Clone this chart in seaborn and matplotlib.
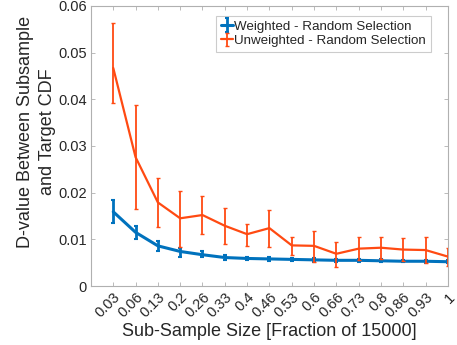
import numpy as np
import pandas as pd
import seaborn as sns
import matplotlib.pyplot as plt
from matplotlib.legend_handler import HandlerTuple

tick_labels = ["0.03", "0.06", "0.13", "0.2", "0.26", "0.33", "0.4", "0.46",
               "0.53", "0.6", "0.66", "0.73", "0.8", "0.86", "0.93", "1"]

weighted = [0.0159, 0.0115, 0.0086, 0.0074, 0.0067, 0.0061, 0.0059, 0.0058,
            0.0057, 0.0056, 0.0055, 0.0055, 0.0054, 0.0053, 0.0053, 0.0052]
weighted_lo = [0.0134, 0.0101, 0.0075, 0.0063, 0.0062, 0.0056, 0.0055, 0.0053,
               0.0054, 0.0052, 0.0052, 0.0052, 0.0051, 0.0051, 0.0050, 0.0049]
weighted_hi = [0.0184, 0.0128, 0.0097, 0.0082, 0.0074, 0.0066, 0.0063, 0.0063,
               0.0060, 0.0060, 0.0058, 0.0058, 0.0057, 0.0056, 0.0056, 0.0055]

unweighted = [0.0467, 0.0276, 0.0179, 0.0145, 0.0152, 0.0129, 0.0111, 0.0124,
              0.0087, 0.0086, 0.0069, 0.0080, 0.0082, 0.0078, 0.0077, 0.0063]
unweighted_lo = [0.0393, 0.0165, 0.0127, 0.0083, 0.0111, 0.0091, 0.0086, 0.0083,
                 0.0067, 0.0052, 0.0041, 0.0056, 0.0057, 0.0054, 0.0049, 0.0043]
unweighted_hi = [0.0564, 0.0387, 0.0231, 0.0204, 0.0193, 0.0166, 0.0133, 0.0163,
                 0.0106, 0.0118, 0.0095, 0.0104, 0.0106, 0.0102, 0.0104, 0.0082]

blue = "#0072BD"
orange = "#FF4A12"

sns.set_style("white")
plt.rcParams["font.family"] = ["Liberation Sans", "DejaVu Sans"]

pos = np.arange(1, len(tick_labels) + 1)
df = pd.DataFrame({"pos": pos, "w": weighted, "u": unweighted})

fig = plt.figure(figsize=(4.57, 3.45), dpi=100)
ax = fig.add_axes([0.199, 0.171, 0.781, 0.812])

sns.lineplot(data=df, x="pos", y="w", color=blue, lw=2.2, ax=ax)
w_line = ax.lines[-1]
sns.lineplot(data=df, x="pos", y="u", color=orange, lw=1.6, ax=ax)
u_line = ax.lines[-1]

w_err = ax.errorbar(pos, weighted,
                    yerr=[np.array(weighted) - weighted_lo, np.array(weighted_hi) - weighted],
                    fmt="none", ecolor=blue, elinewidth=2.0, capsize=1.5, capthick=1.5)
u_err = ax.errorbar(pos, unweighted,
                    yerr=[np.array(unweighted) - unweighted_lo, np.array(unweighted_hi) - unweighted],
                    fmt="none", ecolor=orange, elinewidth=1.3, capsize=1.5, capthick=1.0)

ax.set_xlim(0, 16)
ax.set_ylim(0, 0.06)
ax.set_xticks(pos)
ax.set_xticklabels(tick_labels, rotation=45, ha="right", rotation_mode="anchor", fontsize=10.5)
ax.set_yticks([0, 0.01, 0.02, 0.03, 0.04, 0.05, 0.06])
ax.set_yticklabels(["0", "0.01", "0.02", "0.03", "0.04", "0.05", "0.06"], fontsize=10.5)
ax.tick_params(direction="in", length=3, width=0.6, color="#b0b0b0",
               top=True, right=True, bottom=True, left=True, pad=3)
for s in ax.spines.values():
    s.set_color("#b0b0b0")
    s.set_linewidth(0.8)

ax.set_xlabel("Sub-Sample Size [Fraction of 15000]", fontsize=13, labelpad=2)
ax.set_ylabel("D-value Between Subsample\nand Target CDF", fontsize=13, labelpad=3,
              linespacing=1.4)
ax.yaxis.set_label_coords(-0.098, 0.55)

leg = ax.legend([(w_line, w_err), (u_line, u_err)],
                ["Weighted - Random Selection", "Unweighted - Random Selection"],
                handler_map={tuple: HandlerTuple(ndivide=1)},
                loc="upper right", bbox_to_anchor=(0.96, 0.975), fontsize=9.6,
                frameon=True, fancybox=False, edgecolor="#c0c0c0",
                handlelength=0.9, handletextpad=0.1, borderpad=0.35,
                labelspacing=0.15, borderaxespad=0.2)
leg.get_frame().set_linewidth(0.8)

fig.savefig("out.png", dpi=100)
